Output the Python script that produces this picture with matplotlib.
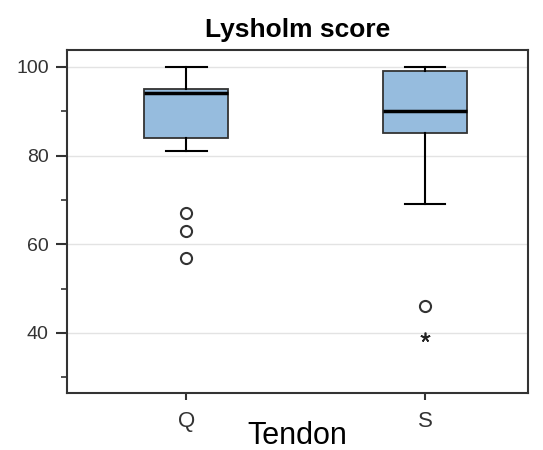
import numpy as np
import matplotlib
matplotlib.use("Agg")
from matplotlib import pyplot as plt
from matplotlib.ticker import MultipleLocator

plt.rcParams['font.family'] = ['Liberation Sans', 'DejaVu Sans']

# values
groups = ["Q", "S"]
whisker_low = [81, 69]
q1 = [84, 85]
medians = [94, 90]
q3 = [95, 99]
whisker_high = [100, 100]
outliers = [[67, 63, 57], [46]]
extremes = [[], [39]]

fig = plt.figure(figsize=(5.43, 4.5), dpi=100)
ax = fig.add_axes([0.123, 0.127, 0.849, 0.762])

stats = []
for i in range(len(groups)):
    stats.append({"whislo": whisker_low[i], "q1": q1[i], "med": medians[i],
                  "q3": q3[i], "whishi": whisker_high[i],
                  "fliers": outliers[i], "label": groups[i]})

pos = np.arange(1, len(groups) + 1)
ax.bxp(stats, positions=pos, widths=0.35, patch_artist=True,
       boxprops=dict(facecolor="#96bcde", edgecolor="#333333", linewidth=1.3),
       medianprops=dict(color="black", linewidth=2.5),
       whiskerprops=dict(color="black", linewidth=1.5),
       capprops=dict(color="black", linewidth=1.5),
       capwidths=0.17,
       flierprops=dict(marker="o", markerfacecolor="white", markeredgecolor="#333333",
                       markersize=8, markeredgewidth=1.5))

for i in range(len(groups)):
    if extremes[i]:
        ax.plot([pos[i]] * len(extremes[i]), extremes[i], marker=(5, 2, 0),
                linestyle="none", color="#222222", markersize=7, markeredgewidth=1.2)

ax.set_xlim(0.5, 2.43)
ax.set_ylim(26.5, 103.8)
ax.yaxis.set_major_locator(MultipleLocator(20))
ax.yaxis.set_minor_locator(MultipleLocator(10))
ax.set_yticks([40, 60, 80, 100])
ax.grid(axis="y", which="major", color="#e3e3e3", linewidth=1)
ax.set_axisbelow(True)

ax.tick_params(axis="y", which="major", length=8, width=1.5, labelsize=14, color="#333333", pad=5)
ax.tick_params(axis="y", which="minor", length=4, width=1.2, color="#333333")
ax.tick_params(axis="x", length=5, width=1.5, labelsize=16, color="#333333", pad=8)
for t in ax.get_xticklabels() + ax.get_yticklabels():
    t.set_color("#333333")
for s in ax.spines.values():
    s.set_linewidth(1.5)
    s.set_color("#333333")

ax.set_title("Lysholm score", fontsize=19, fontweight="bold", pad=9)
ax.set_xlabel("Tendon", fontsize=22, labelpad=-8)

fig.savefig("out.png", dpi=100)
